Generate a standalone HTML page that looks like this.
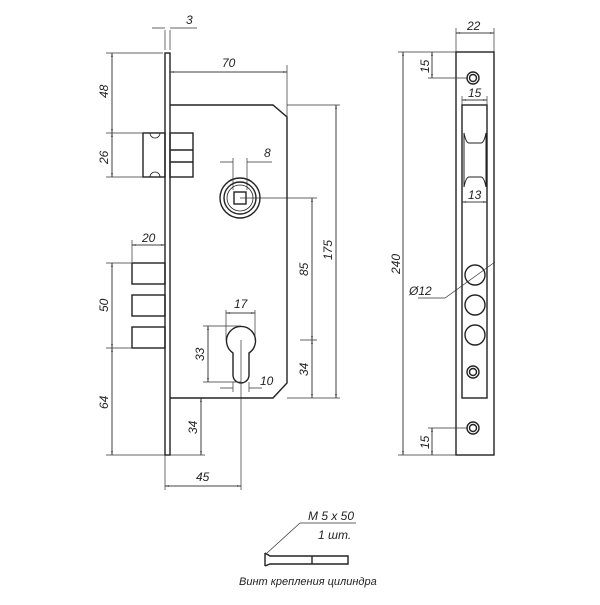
<!DOCTYPE html>
<html><head><style>body{margin:0;background:#fff}</style></head><body>
<svg width="600" height="600" viewBox="0 0 600 600" xmlns="http://www.w3.org/2000/svg" font-family="Liberation Sans, sans-serif" font-style="italic" font-size="12" fill="#222">
<defs><marker id="a" viewBox="0 0 10 10" refX="10" refY="5" markerWidth="7" markerHeight="7" orient="auto-start-reverse"><path d="M0,3L10,5L0,7z" fill="#222"/></marker></defs>
<g stroke="#222" fill="none" stroke-width="1.4">
<rect x="165" y="53" width="5" height="402"/>
<path d="M170,105H273L287,117V383L273,398H170"/>
<rect x="143" y="133" width="22" height="44"/>
<path d="M150,133a5,5 0 0 0 10,0M150,177a5,5 0 0 1 10,0" stroke-width="0.8"/>
<rect x="170" y="133" width="23" height="44"/><path d="M170,150H193M170,162H193"/>
<rect x="132" y="263" width="33" height="21"/><rect x="132" y="295" width="33" height="21"/><rect x="132" y="327" width="33" height="21"/>
<circle cx="240" cy="198" r="20"/><circle cx="240" cy="198" r="16"/><circle cx="240" cy="198" r="13" stroke-width="0.8"/>
<rect x="234" y="192" width="12" height="12"/>
<path d="M233,353A14.5,14.5 0 1 1 249,353V375A8,8 0 0 1 233,375Z"/>
<rect x="456" y="52" width="38" height="403"/>
<rect x="462" y="105" width="25" height="293"/>
<path d="M464,133Q466,143 469,143H481Q484,143 486,133M464,133V187M486,133V187M464,187Q466,177 469,177H481Q484,177 486,187" stroke-width="1"/>
<circle cx="473" cy="78" r="6"/><circle cx="473" cy="78" r="3.5"/>
<circle cx="473" cy="428" r="6"/><circle cx="473" cy="428" r="3.5"/>
<circle cx="473" cy="372" r="6"/><circle cx="473" cy="372" r="3.5"/>
<circle cx="475" cy="275" r="10"/><circle cx="475" cy="305" r="10"/><circle cx="475" cy="335" r="10"/>
<path d="M265,553V566M265,553L270,556H348V564H270L265,566M312,556V564"/>
</g>
<g stroke="#333" fill="none" stroke-width="0.7">
<path d="M165,30V50M170,30V50M152,28H165M170,28H197"/>
<path d="M170,72H287M287,65V117"/>
<path d="M106,53H163M106,133H143M106,177H143M112,53V177"/>
<path d="M233,158V190M247,158V190M220,162H233M247,162H272"/>
<path d="M240,198H317M287,105H340M287,398H340M312,198V398M336,105V398M300,340H317"/>
<path d="M132,240V262M132,245H165"/>
<path d="M106,263H132M106,348H132M106,455H165M112,263V455"/>
<path d="M226,310V340M255,310V340M226,313H255"/>
<path d="M203,326H241M203,382H241M208,326V382"/>
<path d="M233,382V392M249,382V392M220,388H233M249,388H262"/>
<path d="M170,455H205M201,398V455"/>
<path d="M241,340V490M165,455V490M165,486H241"/>
<path d="M456,28V52M494,28V52M456,33H494"/>
<path d="M398,52H456M398,455H456M403,52V455"/>
<path d="M428,78H468M428,428H468M432,52V78M432,428V455"/>
<path d="M462,96V105M487,96V105M462,100H487M462,202H487"/>
<path d="M418,298H445L495,262"/>
<path d="M267,553L300,523H356"/>
</g>
<g stroke="#222" stroke-width="0.6" fill="none" marker-start="url(#a)" marker-end="url(#a)">
<path d="M170,72H287"/><path d="M112,53V133"/><path d="M112,133V177"/><path d="M312,198V340"/><path d="M312,340V398"/><path d="M336,105V398"/><path d="M132,245H165"/><path d="M112,263V348"/><path d="M112,348V455"/><path d="M226,313H255"/><path d="M208,326V382"/><path d="M201,398V455"/><path d="M165,486H241"/><path d="M456,33H494"/><path d="M403,52V455"/><path d="M432,52V78"/><path d="M432,428V455"/><path d="M462,100H487"/><path d="M462,202H487"/>
</g>
<g stroke="none">
<text x="186" y="24">3</text><text x="222" y="67">70</text><text x="264" y="157">8</text>
<text transform="translate(108,98) rotate(-90)">48</text><text transform="translate(108,164) rotate(-90)">26</text>
<text transform="translate(108,312) rotate(-90)">50</text><text transform="translate(108,409) rotate(-90)">64</text>
<text x="142" y="242">20</text><text x="234" y="308">17</text><text x="260" y="385">10</text>
<text transform="translate(204,361) rotate(-90)">33</text><text transform="translate(197,434) rotate(-90)">34</text>
<text transform="translate(308,276) rotate(-90)">85</text><text transform="translate(308,376) rotate(-90)">34</text><text transform="translate(332,260) rotate(-90)">175</text>
<text x="196" y="481">45</text><text x="467" y="30">22</text><text x="468" y="97">15</text><text x="468" y="199">13</text>
<text transform="translate(400,274) rotate(-90)">240</text><text transform="translate(429,73) rotate(-90)">15</text><text transform="translate(429,449) rotate(-90)">15</text>
<text x="409" y="295">Ø12</text>
<text x="308" y="520">M 5 x 50</text><text x="318" y="539">1 шт.</text>
<text x="239" y="585" font-size="11">Винт крепления цилиндра</text>
</g>
</svg>
</body></html>
